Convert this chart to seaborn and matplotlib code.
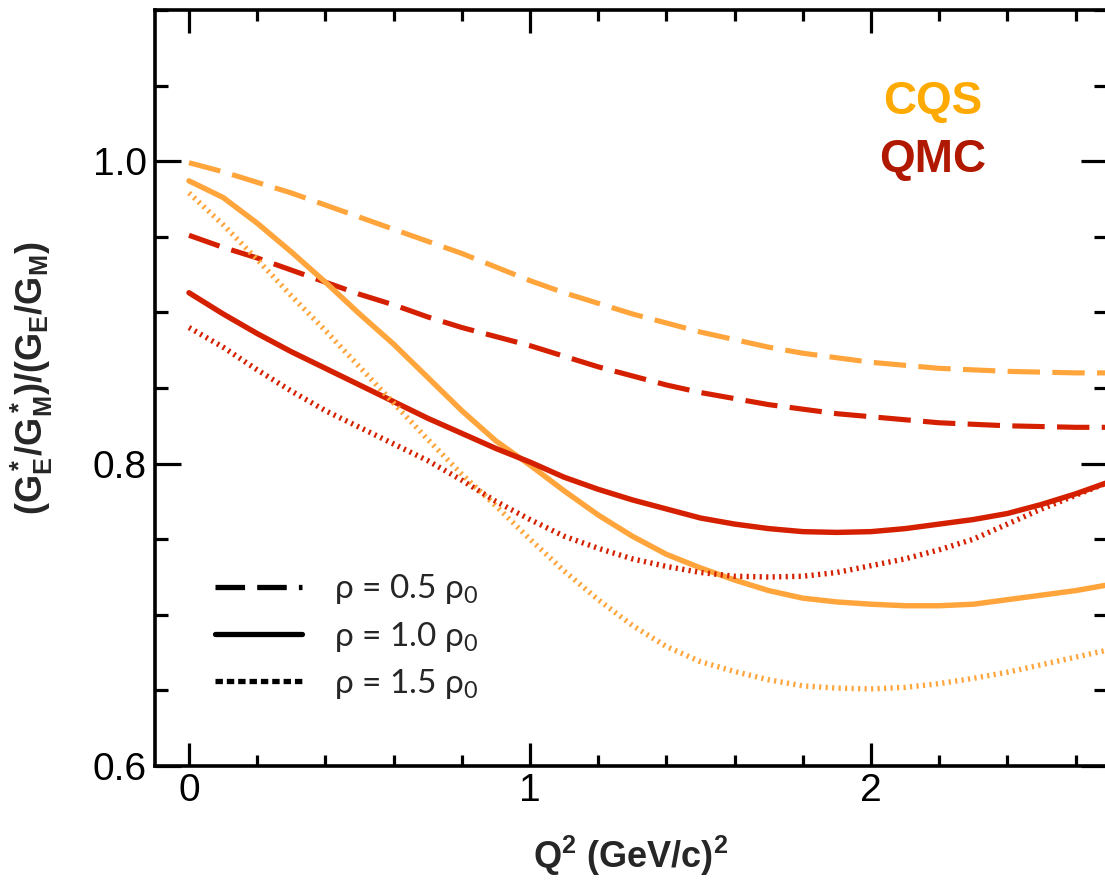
import numpy as np
import pandas as pd
import matplotlib
matplotlib.use("Agg")
import matplotlib.pyplot as plt
from matplotlib.lines import Line2D
from matplotlib.ticker import MultipleLocator, FixedLocator
import seaborn as sns

# Q^2 grid (GeV/c)^2
q2 = [round(0.1 * i, 1) for i in range(28)]

# CQS model ratios at three nuclear densities
cqs_05 = [0.999, 0.993, 0.986, 0.979, 0.971, 0.963, 0.955, 0.947, 0.939, 0.930,
          0.921, 0.913, 0.906, 0.899, 0.893, 0.887, 0.882, 0.877, 0.873, 0.870,
          0.867, 0.865, 0.863, 0.862, 0.861, 0.8605, 0.860, 0.860]
cqs_10 = [0.987, 0.976, 0.959, 0.940, 0.920, 0.899, 0.879, 0.857, 0.835, 0.815,
          0.799, 0.782, 0.766, 0.752, 0.740, 0.731, 0.723, 0.716, 0.711, 0.7085,
          0.707, 0.706, 0.706, 0.707, 0.710, 0.713, 0.716, 0.720]
cqs_15 = [0.979, 0.958, 0.935, 0.911, 0.888, 0.864, 0.840, 0.816, 0.793, 0.772,
          0.750, 0.729, 0.710, 0.693, 0.679, 0.669, 0.6625, 0.657, 0.653, 0.6515,
          0.651, 0.652, 0.6545, 0.658, 0.662, 0.667, 0.672, 0.677]

# QMC model ratios at three nuclear densities
qmc_05 = [0.951, 0.943, 0.936, 0.928, 0.920, 0.912, 0.905, 0.897, 0.890, 0.884,
          0.878, 0.871, 0.864, 0.858, 0.852, 0.847, 0.843, 0.839, 0.836, 0.833,
          0.831, 0.829, 0.827, 0.826, 0.825, 0.8245, 0.824, 0.824]
qmc_10 = [0.913, 0.899, 0.886, 0.874, 0.863, 0.852, 0.841, 0.830, 0.820, 0.810,
          0.801, 0.791, 0.783, 0.776, 0.770, 0.764, 0.760, 0.757, 0.755, 0.7545,
          0.755, 0.757, 0.760, 0.763, 0.767, 0.773, 0.780, 0.788]
qmc_15 = [0.890, 0.877, 0.862, 0.848, 0.835, 0.824, 0.813, 0.802, 0.789, 0.775,
          0.763, 0.752, 0.744, 0.737, 0.732, 0.728, 0.7255, 0.725, 0.7255, 0.728,
          0.7325, 0.737, 0.743, 0.750, 0.760, 0.770, 0.779, 0.788]

models = ["CQS", "QMC"]
densities = ["0.5", "1.0", "1.5"]
legend_labels = [r"ρ = 0.5 ρ$_0$", r"ρ = 1.0 ρ$_0$", r"ρ = 1.5 ρ$_0$"]
x_ticks = [0, 1, 2]
x_tick_labels = ["0", "1", "2"]
y_ticks = [0.6, 0.8, 1.0]
y_tick_labels = ["0.6", "0.8", "1.0"]

series = {
    ("CQS", "0.5"): cqs_05, ("CQS", "1.0"): cqs_10, ("CQS", "1.5"): cqs_15,
    ("QMC", "0.5"): qmc_05, ("QMC", "1.0"): qmc_10, ("QMC", "1.5"): qmc_15,
}
rows = []
for (m, d), vals in series.items():
    for xv, yv in zip(q2, vals):
        rows.append({"model": m, "density": d, "Q2": xv, "ratio": yv})
df = pd.DataFrame(rows)

sns.set_style("ticks")
plt.rcParams["font.family"] = ["Liberation Sans", "DejaVu Sans"]
plt.rcParams["mathtext.fontset"] = "custom"
plt.rcParams["mathtext.rm"] = "Lato"
plt.rcParams["mathtext.bf"] = "Liberation Sans:bold"
plt.rcParams["mathtext.it"] = "Liberation Sans:italic"

line_colors = {"CQS": "#FFA53C", "QMC": "#D52000"}
text_colors = {"CQS": "#FFAA00", "QMC": "#B01800"}
styles = {
    "0.5": dict(lw=3.7, ls=(0, (6.3, 2.4))),
    "1.0": dict(lw=3.9, ls="-"),
    "1.5": dict(lw=3.9, ls=(0, (0.4, 0.8))),
}

fig = plt.figure(figsize=(11.05, 8.83), dpi=100)
ax = fig.add_axes([155 / 1105, 117 / 883, 952 / 1105, 756 / 883])

for d in densities:
    for m in models:
        sub = df[(df.model == m) & (df.density == d)]
        sns.lineplot(data=sub, x="Q2", y="ratio", ax=ax, color=line_colors[m],
                     linewidth=styles[d]["lw"], linestyle=styles[d]["ls"],
                     legend=False, estimator=None, sort=False)

ax.set_xlim(-0.0997, 2.692)
ax.set_ylim(0.6, 1.1)

ax.xaxis.set_major_locator(FixedLocator(x_ticks))
ax.set_xticklabels(x_tick_labels)
ax.xaxis.set_minor_locator(MultipleLocator(0.2))
ax.yaxis.set_major_locator(FixedLocator(y_ticks))
ax.set_yticklabels(y_tick_labels)
ax.yaxis.set_minor_locator(MultipleLocator(0.05))

for s in ax.spines.values():
    s.set_linewidth(2.6)
    s.set_color("black")
    s.set_visible(True)

ax.tick_params(axis="both", which="both", direction="in", top=True, right=True,
               color="black", width=2.3, labelsize=28, labelcolor="black")
ax.tick_params(axis="x", which="major", length=16.5, pad=5)
ax.tick_params(axis="x", which="minor", length=8)
ax.tick_params(axis="y", which="major", length=19, pad=6)
ax.tick_params(axis="y", which="minor", length=9.5)

ax.set_xlabel(r"$\mathbf{Q^2}$ $\mathbf{(GeV/c)^2}$", fontsize=26)
ax.xaxis.set_label_coords(0.5, -0.09)
ax.set_ylabel(r"$\mathbf{(G^*_E/G^*_M)/(G_E/G_M)}$", fontsize=26)
ax.yaxis.set_label_coords(-0.105, 0.513)

ax.text(2.18, 1.039, "CQS", color=text_colors["CQS"], fontsize=33,
        fontweight="bold", ha="center", va="center")
ax.text(2.18, 1.001, "QMC", color=text_colors["QMC"], fontsize=33,
        fontweight="bold", ha="center", va="center")

handles = [
    Line2D([], [], color="black", lw=3.8, ls=(0, (5.6, 2.3))),
    Line2D([], [], color="black", lw=3.8, ls="-"),
    Line2D([], [], color="black", lw=3.8, ls=(0, (1.4, 0.75))),
]
leg = ax.legend(handles, legend_labels, loc="upper left",
                bbox_to_anchor=(0.063, 0.256), frameon=False, borderpad=0,
                borderaxespad=0, handlelength=2.62, handletextpad=0.95,
                labelspacing=0.4, prop={"family": ["Lato", "DejaVu Sans"], "size": 24})

fig.savefig("out.png", dpi=100)
